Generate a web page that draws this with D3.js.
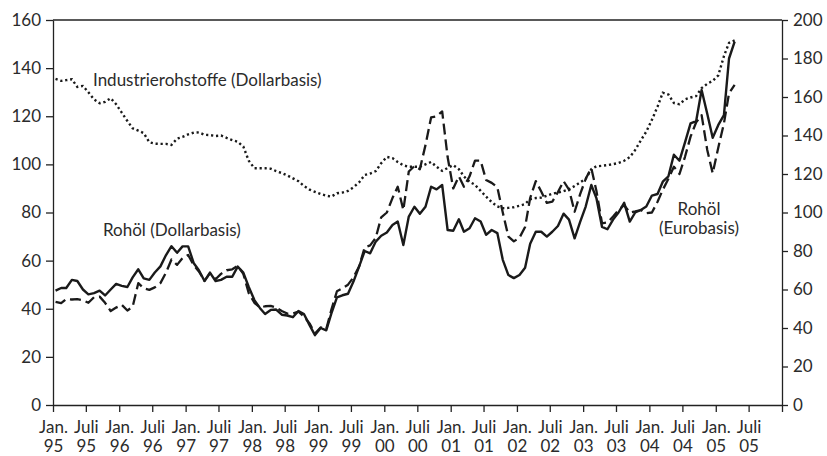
<!DOCTYPE html>
<html>
<head>
<meta charset="utf-8">
<script src="https://cdn.jsdelivr.net/npm/d3@7"></script>
<style>
  body { margin: 0; background: #fff; }
  svg text { font-family: Lato, "Liberation Sans", sans-serif; fill: #2b2b2b; }
</style>
</head>
<body>
<div id="chart"></div>
<script>
// monthly values Jan 1995 .. Apr 2005
const startMonth = new Date(1995, 0, 15);

// Rohöl (Dollarbasis), right axis
const oilDollar = [
  59.4, 60.8, 60.8, 65.0, 64.4, 60.0, 57.5, 58.1, 59.4, 56.9, 60.0, 62.9,
  61.9, 61.3, 66.3, 70.5, 65.8, 65.0, 68.8, 72.0, 77.9, 82.5, 79.1, 82.4,
  82.4, 73.6, 70.0, 64.4, 68.8, 64.4, 65.0, 66.6, 66.6, 71.9, 68.8, 61.3,
  54.5, 50.3, 47.3, 49.4, 49.6, 46.9, 46.5, 45.6, 48.8, 47.3, 41.5, 36.3,
  40.0, 38.8, 47.5, 55.9, 57.0, 57.8, 64.1, 71.9, 80.0, 78.8, 84.9, 87.9,
  89.6, 93.5, 95.3, 83.1, 97.9, 103.0, 99.3, 103.0, 113.4, 112.0, 114.3, 90.9,
  90.5, 96.5, 90.0, 91.8, 97.0, 95.3, 88.4, 90.9, 89.3, 75.4, 67.5, 65.9,
  67.5, 71.3, 83.8, 90.0, 90.0, 87.5, 90.0, 93.0, 99.4, 96.3, 86.6, 95.0,
  103.1, 114.3, 107.5, 92.5, 91.3, 96.3, 100.0, 105.0, 95.3, 100.0, 101.3, 103.1,
  108.8, 109.6, 116.0, 118.8, 130.0, 126.9, 136.3, 146.3, 147.5, 163.6, 151.3, 138.8,
  145.5, 150.6, 180.0, 188.8
];

// Rohöl (Eurobasis), right axis
const oilEuro = [
  53.6, 52.9, 55.0, 54.8, 55.0, 54.4, 53.1, 56.0, 56.3, 53.1, 48.8, 50.6,
  52.0, 49.1, 51.0, 63.3, 60.6, 59.8, 61.1, 63.3, 68.8, 75.6, 72.8, 76.3,
  77.9, 72.5, 69.4, 64.5, 68.4, 65.3, 68.1, 70.0, 70.5, 72.3, 68.1, 58.1,
  53.1, 50.6, 51.3, 51.5, 50.6, 48.8, 47.5, 47.5, 48.5, 46.0, 42.4, 37.1,
  40.3, 39.4, 49.4, 59.1, 60.6, 62.5, 66.3, 71.9, 81.9, 82.9, 86.9, 97.5,
  100.0, 107.5, 113.4, 101.3, 121.3, 124.1, 122.5, 135.0, 149.4, 150.0, 152.5, 128.8,
  112.5, 118.8, 113.4, 118.8, 126.9, 126.9, 116.9, 115.4, 113.1, 100.0, 87.5, 85.0,
  86.9, 92.5, 107.5, 116.3, 110.9, 105.0, 105.6, 110.6, 116.3, 111.9, 100.4, 109.4,
  117.5, 123.0, 111.3, 94.4, 94.8, 97.9, 101.3, 103.8, 100.0, 100.6, 101.3, 99.6,
  100.0, 105.6, 111.8, 117.5, 123.8, 120.0, 128.8, 139.4, 146.9, 150.6, 132.5, 120.4,
  133.8, 146.3, 161.9, 166.3
];

// Industrierohstoffe (Dollarbasis), left axis
const rawMaterials = [
  135.5, 134.7, 135.0, 135.4, 132.2, 132.6, 130.0, 127.0, 125.4, 126.0, 127.5, 125.0,
  121.5, 118.0, 115.0, 114.0, 113.0, 109.2, 108.6, 108.5, 108.5, 108.1, 110.7, 111.4,
  112.5, 113.2, 113.3, 112.3, 112.2, 111.8, 112.0, 111.0, 110.1, 109.4, 107.4, 101.5,
  98.4, 98.4, 98.4, 98.2, 97.2, 96.4, 95.4, 94.2, 93.0, 91.0, 89.5, 88.6,
  87.7, 87.0, 86.6, 88.0, 88.3, 89.0, 90.5, 92.5, 95.6, 96.2, 97.2, 100.5,
  103.1, 102.6, 101.0, 99.6, 99.0, 99.0, 99.0, 100.0, 101.0, 99.0, 97.3, 98.5,
  99.7, 98.0, 95.0, 92.8, 91.5, 89.0, 86.6, 84.3, 82.5, 81.8, 81.9, 82.2,
  82.8, 83.5, 85.5, 86.0, 86.2, 87.0, 87.8, 88.3, 88.9, 89.6, 91.0, 92.5,
  94.0, 98.0, 99.2, 99.4, 99.7, 100.1, 100.6, 101.5, 103.0, 106.0, 110.0, 113.6,
  118.5, 124.0, 129.8, 129.0, 125.5, 125.0, 127.0, 127.8, 128.4, 131.7, 133.5, 134.7,
  137.0, 145.0, 150.5, 151.5
];

const tickMonths = ['Jan.', 'Juli'];
const tickYears = ['95', '95', '96', '96', '97', '97', '98', '98', '99', '99', '00', '00',
  '01', '01', '02', '02', '03', '03', '04', '04', '05', '05'];
const leftTicks = [0, 20, 40, 60, 80, 100, 120, 140, 160];
const rightTicks = [0, 20, 40, 60, 80, 100, 120, 140, 160, 180, 200];

const width = 827, height = 456;
const margin = { top: 20, right: 45, bottom: 51, left: 53 };
const fontSize = '17px';

const svg = d3.select('#chart')
  .append('svg')
  .attr('width', width)
  .attr('height', height);

const x = d3.scaleTime()
  .domain([new Date(1995, 0, 1), new Date(2006, 0, 1)])
  .range([margin.left, width - margin.right]);

const yLeft = d3.scaleLinear()
  .domain([0, 160])
  .range([height - margin.bottom, margin.top]);

const yRight = d3.scaleLinear()
  .domain([0, 200])
  .range([height - margin.bottom, margin.top]);

const dates = oilDollar.map((d, i) => d3.timeMonth.offset(startMonth, i));
const halfYears = d3.timeMonth.every(6).range(new Date(1995, 0, 1), new Date(2006, 0, 2));

// top border
svg.append('line')
  .attr('x1', x.range()[0]).attr('x2', x.range()[1])
  .attr('y1', margin.top).attr('y2', margin.top)
  .style('stroke', '#222')
  .style('stroke-width', 1.3);

// x axis with two-line labels
const xAxis = svg.append('g')
  .attr('transform', `translate(0,${height - margin.bottom})`)
  .call(d3.axisBottom(x).tickValues(halfYears).tickSize(7).tickSizeOuter(0).tickFormat(''));

xAxis.selectAll('.tick').each(function(d, i) {
  if (i >= tickYears.length) return;
  const t = d3.select(this);
  t.append('text')
    .attr('y', 28)
    .attr('text-anchor', 'middle')
    .text(tickMonths[i % 2]);
  t.append('text')
    .attr('y', 47)
    .attr('text-anchor', 'middle')
    .text(tickYears[i]);
});

const leftAxis = svg.append('g')
  .attr('transform', `translate(${margin.left},0)`)
  .call(d3.axisLeft(yLeft).tickValues(leftTicks).tickSize(7).tickSizeOuter(0).tickPadding(5));

const rightAxis = svg.append('g')
  .attr('transform', `translate(${width - margin.right},0)`)
  .call(d3.axisRight(yRight).tickValues(rightTicks).tickSize(6).tickSizeOuter(0).tickPadding(5));

[xAxis, leftAxis, rightAxis].forEach(a => {
  a.selectAll('path, line').style('stroke', '#222').style('stroke-width', 1.3);
  a.selectAll('text').style('font-size', fontSize).style('fill', '#2b2b2b');
});

const lineLeft = d3.line()
  .x((d, i) => x(dates[i]))
  .y(d => yLeft(d));

const lineRight = d3.line()
  .x((d, i) => x(dates[i]))
  .y(d => yRight(d));

svg.append('path')
  .datum(rawMaterials)
  .attr('d', lineLeft)
  .style('fill', 'none')
  .style('stroke', '#1a1a1a')
  .style('stroke-width', 2.4)
  .style('stroke-dasharray', '2.2 2.8');

svg.append('path')
  .datum(oilEuro)
  .attr('d', lineRight)
  .style('fill', 'none')
  .style('stroke', '#1a1a1a')
  .style('stroke-width', 2.3)
  .style('stroke-linejoin', 'round')
  .style('stroke-dasharray', '11 5');

svg.append('path')
  .datum(oilDollar)
  .attr('d', lineRight)
  .style('fill', 'none')
  .style('stroke', '#1a1a1a')
  .style('stroke-width', 2.4)
  .style('stroke-linejoin', 'round');

// series labels
const labels = svg.append('g').style('font-size', fontSize);

labels.append('text')
  .attr('x', 93).attr('y', 86)
  .text('Industrierohstoffe (Dollarbasis)');

labels.append('text')
  .attr('x', 103).attr('y', 236)
  .text('Rohöl (Dollarbasis)');

labels.append('text')
  .attr('x', 699).attr('y', 215)
  .attr('text-anchor', 'middle')
  .text('Rohöl');

labels.append('text')
  .attr('x', 699).attr('y', 234)
  .attr('text-anchor', 'middle')
  .text('(Eurobasis)');
</script>
</body>
</html>
